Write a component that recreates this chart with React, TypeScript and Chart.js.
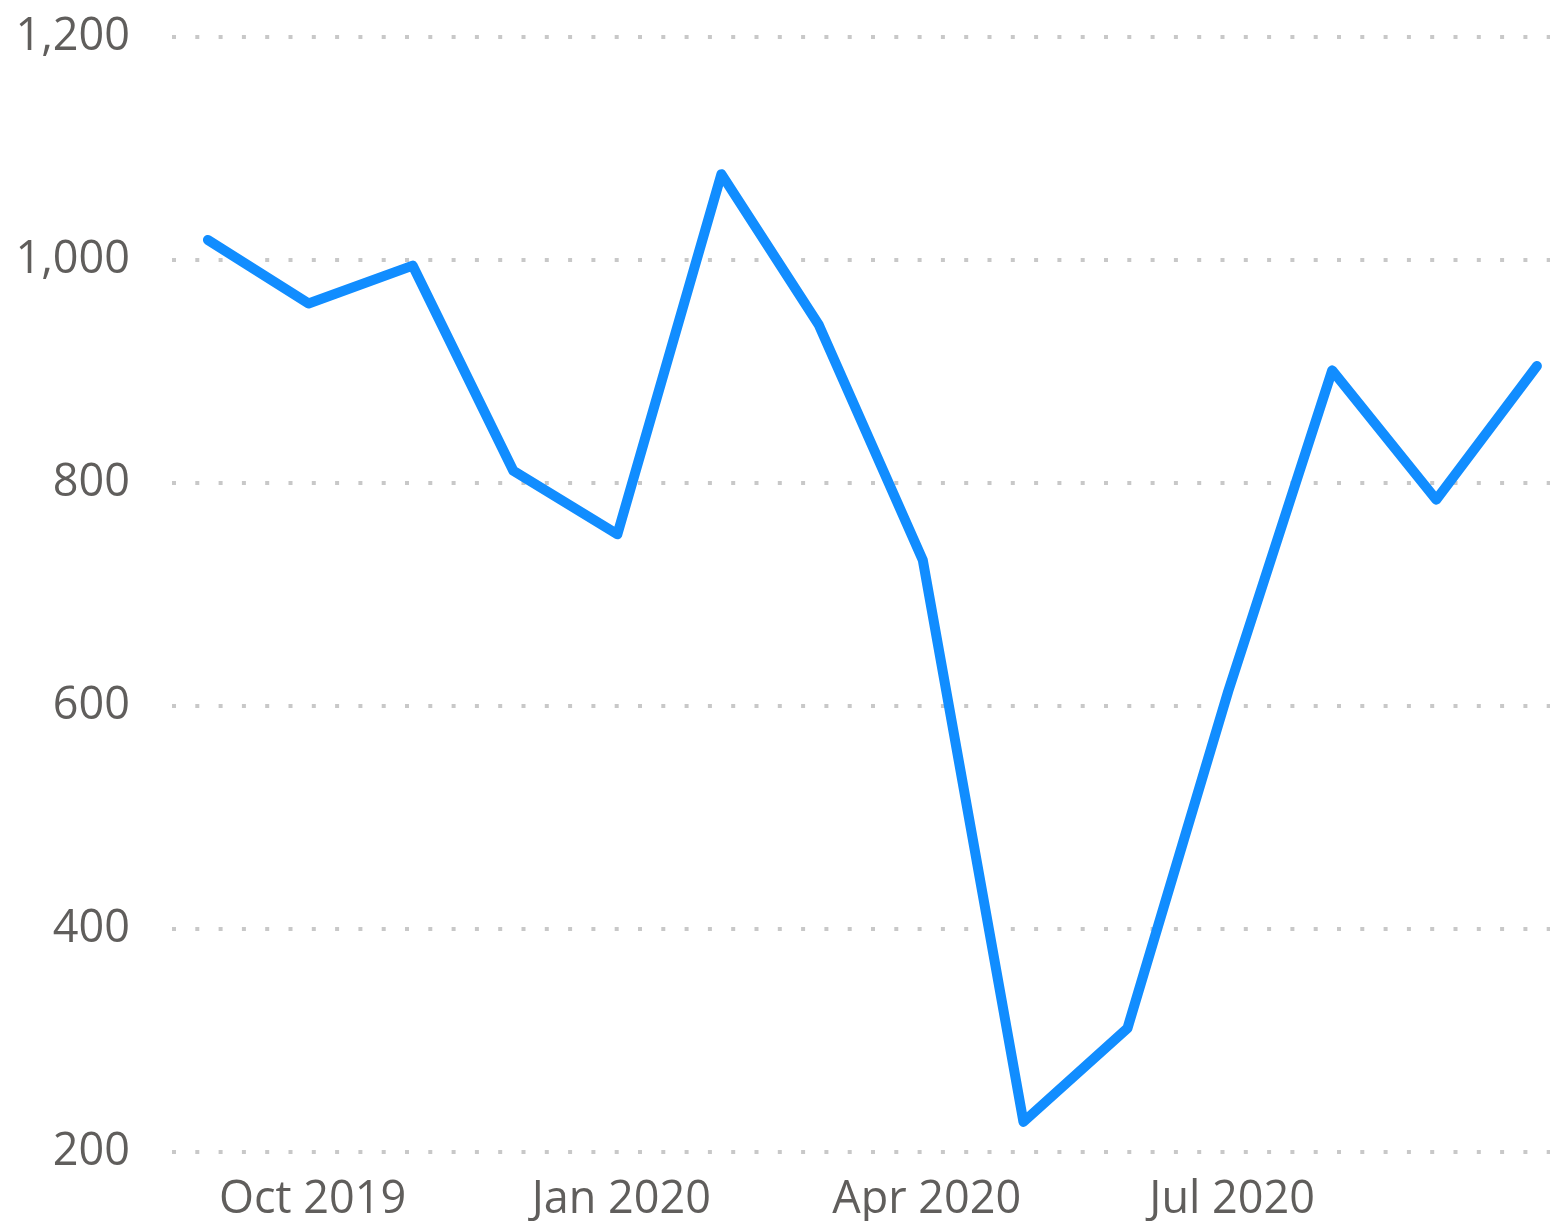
import React, { useEffect, useRef } from "react";
import { Chart, registerables } from "chart.js";

Chart.register(...registerables);

const dates = [
  "2019-09-01", "2019-10-01", "2019-11-01", "2019-12-01",
  "2020-01-01", "2020-02-01", "2020-03-01", "2020-04-01",
  "2020-05-01", "2020-06-01", "2020-07-01", "2020-08-01",
  "2020-09-01", "2020-10-01",
];
const values = [1018, 961, 995, 811, 754, 1077, 942, 731, 227, 311, 613, 901, 785, 905];
const xTickDates = ["2019-10-01", "2020-01-01", "2020-04-01", "2020-07-01"];
const xTickLabels = ["Oct 2019", "Jan 2020", "Apr 2020", "Jul 2020"];
const yMin = 200;
const yMax = 1200;
const yStep = 200;

const DAY = 86400000;
const origin = Date.parse(dates[0]);
const dayOf = (s: string) => Math.round((Date.parse(s) - origin) / DAY);

const FONT = "'Segoe UI', 'Open Sans', sans-serif";

export default function App() {
  const ref = useRef<HTMLCanvasElement | null>(null);
  useEffect(() => {
    if (!ref.current) return;
    const lastDay = dayOf(dates[dates.length - 1]);
    const tickDays = xTickDates.map(dayOf);
    const chart = new Chart(ref.current, {
      type: "line",
      data: {
        datasets: [
          {
            data: values.map((v, i) => ({ x: dayOf(dates[i]), y: v })),
            borderColor: "#118DFF",
            borderWidth: 10,
            borderCapStyle: "round",
            borderJoinStyle: "round",
            pointRadius: 0,
            tension: 0,
            fill: false,
          },
        ],
      },
      options: {
        animation: false,
        responsive: false,
        maintainAspectRatio: false,
        layout: { padding: { top: 37, right: 6, left: 0, bottom: 0 } },
        plugins: { legend: { display: false }, tooltip: { enabled: false } },
        scales: {
          x: {
            type: "linear",
            min: -11.3,
            max: lastDay + 3.9,
            grid: { display: false, drawTicks: false },
            border: { display: false },
            afterBuildTicks: (scale: any) => {
              scale.ticks = tickDays.map((v) => ({ value: v }));
            },
            afterFit: (scale: any) => {
              scale.height = 69;
            },
            ticks: {
              autoSkip: false,
              maxRotation: 0,
              padding: 21,
              labelOffset: 4,
              color: "#605E5C",
              font: { family: FONT, size: 45 },
              callback: (v: any) => {
                const i = tickDays.indexOf(Number(v));
                return i >= 0 ? xTickLabels[i] : "";
              },
            },
          },
          y: {
            min: yMin,
            max: yMax,
            grid: {
              color: "#C8C8C8",
              lineWidth: 4,
              drawTicks: false,
            },
            border: { display: false, dash: [4, 19.3], dashOffset: -2 },
            afterFit: (scale: any) => {
              scale.width = 170;
              scale.paddingTop = 0;
              scale.paddingBottom = 0;
            },
            ticks: {
              stepSize: yStep,
              padding: 40,
              color: "#605E5C",
              font: { family: FONT, size: 45 },
              callback: (v: any) => Number(v).toLocaleString("en-US"),
            },
          },
        },
      },
    });
    return () => chart.destroy();
  }, []);
  return (
    <div style={{ position: "fixed", left: 0, top: 0, width: 1556, height: 1221, background: "#fff" }}>
      <canvas ref={ref} width={1556} height={1221} />
    </div>
  );
}
